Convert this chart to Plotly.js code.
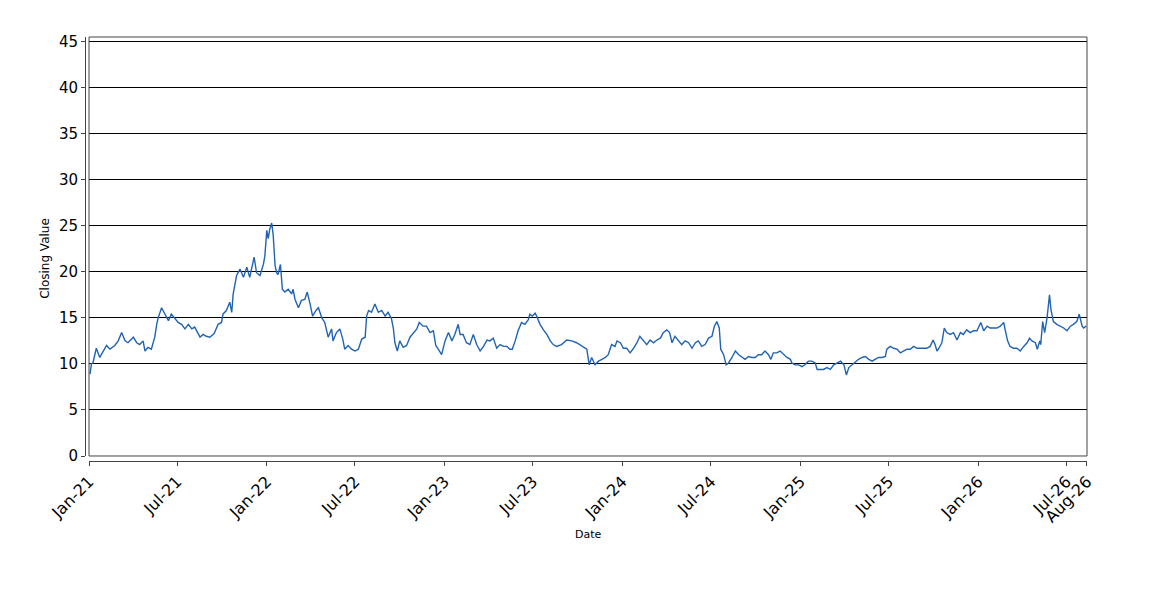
<!DOCTYPE html>
<html>
<head>
<meta charset="utf-8">
<script src="https://cdn.plot.ly/plotly-3.0.1.min.js"></script>
<style>
  html, body { margin: 0; padding: 0; background: #fff; }
  #graph { width: 1150px; height: 600px; }
</style>
</head>
<body>
<div id="graph"></div>
<script>
// closing values, roughly one point a week
const dates2021 = ['2021-01-03','2021-01-06','2021-01-09','2021-01-16','2021-01-23','2021-01-30','2021-02-06','2021-02-13','2021-02-23','2021-03-02',
  '2021-03-09','2021-03-16','2021-03-22','2021-04-02','2021-04-09','2021-04-15','2021-04-22','2021-04-26','2021-05-02','2021-05-09',
  '2021-05-16','2021-05-20','2021-05-23','2021-05-30','2021-06-06','2021-06-13','2021-06-19','2021-06-26','2021-07-03','2021-07-10',
  '2021-07-17','2021-07-24','2021-07-31','2021-08-06','2021-08-17','2021-08-23','2021-08-30','2021-09-06','2021-09-15','2021-09-23',
  '2021-09-30','2021-10-03','2021-10-10','2021-10-17','2021-10-21','2021-10-24','2021-10-31','2021-11-07','2021-11-14','2021-11-21',
  '2021-11-27','2021-12-06','2021-12-11','2021-12-18','2021-12-25','2021-12-28'];
const values2021 = [8.9,10.0,10.1,11.7,10.7,11.4,12.0,11.6,12.0,12.5,
  13.4,12.5,12.3,12.9,12.3,12.1,12.5,11.4,11.8,11.6,
  12.9,14.3,15.0,16.1,15.4,14.7,15.4,14.9,14.5,14.3,
  13.8,14.3,13.8,14.0,12.9,13.2,13.0,12.9,13.3,14.3,
  14.5,15.4,15.8,16.7,15.6,17.6,19.6,20.3,19.4,20.5,
  19.4,21.6,19.9,19.6,20.8,21.7];

const dates2022 = ['2022-01-01','2022-01-04','2022-01-07','2022-01-11','2022-01-14','2022-01-18','2022-01-21','2022-01-24','2022-01-29','2022-02-02',
  '2022-02-07','2022-02-14','2022-02-21','2022-02-24','2022-02-28','2022-03-07','2022-03-13','2022-03-20','2022-03-25','2022-03-31',
  '2022-04-05','2022-04-12','2022-04-17','2022-04-24','2022-04-30','2022-05-07','2022-05-14','2022-05-17','2022-05-24','2022-05-31',
  '2022-06-06','2022-06-10','2022-06-17','2022-06-24','2022-07-01','2022-07-08','2022-07-15','2022-07-22','2022-07-25','2022-07-29',
  '2022-08-04','2022-08-11','2022-08-18','2022-08-25','2022-09-01','2022-09-07','2022-09-14','2022-09-18','2022-09-21','2022-09-26',
  '2022-10-01','2022-10-08','2022-10-15','2022-10-22','2022-10-29','2022-11-05','2022-11-10','2022-11-18','2022-11-25','2022-12-02',
  '2022-12-09','2022-12-14','2022-12-19','2022-12-26'];
const values2022 = [24.5,23.6,24.6,25.3,24.1,20.7,19.9,19.7,20.8,18.1,
  17.8,18.1,17.6,18.1,17.0,16.1,16.9,17.0,17.8,16.5,
  15.2,15.8,16.1,15.0,14.5,12.9,13.8,12.5,13.4,13.8,
  12.7,11.6,12.0,11.6,11.4,11.6,12.7,12.9,15.2,15.8,
  15.6,16.5,15.6,15.8,15.2,15.6,14.9,13.8,12.3,11.4,
  12.5,11.8,12.0,12.9,13.4,13.8,14.5,14.1,14.1,13.4,
  13.6,12.0,11.6,11.0];

const dates2023 = ['2023-01-02','2023-01-09','2023-01-16','2023-01-22','2023-01-29','2023-02-02','2023-02-08','2023-02-15','2023-02-22','2023-03-01',
  '2023-03-08','2023-03-15','2023-03-22','2023-03-29','2023-04-04','2023-04-11','2023-04-18','2023-04-25','2023-05-02','2023-05-09',
  '2023-05-15','2023-05-20','2023-05-26','2023-06-01','2023-06-08','2023-06-15','2023-06-22','2023-06-25','2023-06-30','2023-07-06',
  '2023-07-09','2023-07-16','2023-07-23','2023-07-30','2023-08-06','2023-08-12','2023-08-19','2023-08-29','2023-09-09','2023-09-19',
  '2023-09-29','2023-10-10','2023-10-20','2023-10-25','2023-10-30','2023-11-06','2023-11-13','2023-11-20','2023-11-27','2023-12-03',
  '2023-12-10','2023-12-17','2023-12-21','2023-12-28'];
const values2023 = [12.5,13.4,12.5,13.2,14.3,13.2,13.2,12.3,12.1,13.2,
  12.1,11.4,11.9,12.6,12.5,12.8,11.7,12.1,11.9,11.9,
  11.6,11.6,12.5,13.6,14.5,14.3,14.8,15.4,15.2,15.5,
  15.2,14.3,13.7,13.2,12.5,12.1,11.9,12.1,12.6,12.5,
  12.3,11.9,11.6,9.9,10.7,9.9,10.3,10.5,10.7,11.0,
  12.1,11.9,12.5,12.3];

const dates2024 = ['2024-01-03','2024-01-10','2024-01-17','2024-01-24','2024-01-31','2024-02-06','2024-02-13','2024-02-20','2024-02-27','2024-03-05',
  '2024-03-12','2024-03-19','2024-03-25','2024-04-01','2024-04-07','2024-04-12','2024-04-18','2024-04-25','2024-05-02','2024-05-09',
  '2024-05-16','2024-05-23','2024-05-30','2024-06-05','2024-06-12','2024-06-19','2024-06-26','2024-07-03','2024-07-08','2024-07-13',
  '2024-07-18','2024-07-21','2024-07-27','2024-08-01','2024-08-06','2024-08-13','2024-08-20','2024-08-27','2024-09-02','2024-09-09',
  '2024-09-16','2024-09-23','2024-09-30','2024-10-06','2024-10-13','2024-10-20','2024-10-27','2024-11-01','2024-11-06','2024-11-13',
  '2024-11-20','2024-11-27','2024-12-04','2024-12-11','2024-12-14','2024-12-21','2024-12-28'];
const values2024 = [11.7,11.7,11.2,11.7,12.3,13.0,12.5,12.1,12.6,12.3,
  12.6,12.8,13.4,13.7,13.4,12.3,13.0,12.6,12.1,12.5,
  12.3,11.7,12.3,12.5,11.9,12.1,12.8,13.0,14.1,14.6,
  13.9,11.6,11.0,9.9,10.1,10.7,11.4,11.0,10.8,10.5,
  10.8,10.7,10.7,11.0,11.0,11.4,11.0,10.5,11.2,11.2,
  11.4,11.0,10.7,10.5,10.1,9.9,9.9];

const dates2025 = ['2025-01-04','2025-01-10','2025-01-17','2025-01-24','2025-01-31','2025-02-04','2025-02-11','2025-02-17','2025-02-24','2025-03-03',
  '2025-03-10','2025-03-17','2025-03-24','2025-03-31','2025-04-05','2025-04-10','2025-04-17','2025-04-24','2025-04-30','2025-05-07',
  '2025-05-14','2025-05-21','2025-05-28','2025-06-03','2025-06-10','2025-06-17','2025-06-24','2025-06-27','2025-07-04','2025-07-11',
  '2025-07-18','2025-07-25','2025-08-01','2025-08-07','2025-08-14','2025-08-21','2025-08-28','2025-09-04','2025-09-10','2025-09-17',
  '2025-09-24','2025-09-30','2025-10-04','2025-10-08','2025-10-12','2025-10-18','2025-10-23','2025-10-28','2025-11-04','2025-11-11',
  '2025-11-18','2025-11-25','2025-12-01','2025-12-08','2025-12-15','2025-12-22','2025-12-29'];
const values2025 = [9.7,9.9,10.3,10.3,10.1,9.4,9.4,9.4,9.6,9.4,
  9.9,10.1,10.3,9.9,8.8,9.6,9.9,10.3,10.5,10.7,
  10.8,10.5,10.3,10.5,10.7,10.7,10.8,11.6,11.9,11.7,
  11.6,11.2,11.4,11.6,11.6,11.9,11.7,11.7,11.7,11.7,
  11.9,12.6,12.1,11.4,11.7,12.3,13.9,13.4,13.2,13.4,
  12.6,13.4,13.2,13.7,13.4,13.6,13.6];

const dates2026 = ['2026-01-06','2026-01-12','2026-01-19','2026-01-25','2026-02-01','2026-02-08','2026-02-15','2026-02-22','2026-02-25','2026-03-02',
  '2026-03-07','2026-03-14','2026-03-21','2026-03-28','2026-04-04','2026-04-11','2026-04-16','2026-04-21','2026-04-28','2026-05-02',
  '2026-05-07','2026-05-09','2026-05-13','2026-05-17','2026-05-22','2026-05-27','2026-05-30','2026-06-04','2026-06-11','2026-06-18',
  '2026-06-25','2026-07-02','2026-07-09','2026-07-15','2026-07-22','2026-07-27','2026-08-02','2026-08-05','2026-08-10'];
const values2026 = [14.5,13.6,14.1,13.9,13.9,13.9,14.1,14.5,13.7,12.5,
  11.9,11.7,11.7,11.4,11.9,12.3,12.8,12.5,12.3,11.6,
  12.5,12.1,14.6,13.4,15.0,17.5,15.9,14.6,14.3,14.1,
  13.9,13.6,14.1,14.3,14.6,15.4,14.1,13.9,14.1];

// axis ticks
const tickDates = ['2021-01-01','2021-07-01','2022-01-01','2022-07-01','2023-01-01','2023-07-01','2024-01-01',
  '2024-07-01','2025-01-01','2025-07-01','2026-01-01','2026-07-01','2026-08-12'];
const tickLabels = ['Jan-21','Jul-21','Jan-22','Jul-22','Jan-23','Jul-23','Jan-24',
  'Jul-24','Jan-25','Jul-25','Jan-26','Jul-26','Aug-26'];
const yTicks = [0, 5, 10, 15, 20, 25, 30, 35, 40, 45];

const xs = [].concat(dates2021, dates2022, dates2023, dates2024, dates2025, dates2026);
const ys = [].concat(values2021, values2022, values2023, values2024, values2025, values2026);

const trace = {
    x: xs,
    y: ys,
    type: 'scatter',
    mode: 'lines',
    line: { width: 1.4, color: '#2163b3' },
    hoverinfo: 'x+y'
};

const fam = 'DejaVu Sans, sans-serif';

const layout = {
    width: 1150,
    height: 600,
    showlegend: false,
    paper_bgcolor: '#fff',
    plot_bgcolor: '#fff',
    margin: { l: 85, r: 63, t: 37, b: 139 },
    font: { family: fam, color: '#000' },
    xaxis: {
        type: 'date',
        domain: [0.004, 1],
        range: ['2021-01-01', '2026-08-12'],
        anchor: 'free',
        position: 0,
        tickmode: 'array',
        tickvals: tickDates,
        ticktext: tickLabels,
        tickangle: -45,
        tickfont: { family: fam, size: 16, color: '#000' },
        ticks: 'outside',
        ticklen: 4,
        tickcolor: '#444',
        showgrid: false,
        zeroline: false,
        showline: true,
        linecolor: '#444',
        linewidth: 1
    },
    yaxis: {
        domain: [0.0118, 1],
        range: [0, 45.5],
        anchor: 'free',
        position: 0,
        tickmode: 'array',
        tickvals: yTicks,
        tickfont: { family: fam, size: 15, color: '#000' },
        ticks: 'outside',
        ticklen: 4,
        tickcolor: '#444',
        showgrid: true,
        gridcolor: '#000',
        gridwidth: 1,
        zeroline: false,
        showline: true,
        linecolor: '#444',
        linewidth: 1
    },
    shapes: [{
        type: 'rect', xref: 'x domain', yref: 'y domain',
        x0: 0, x1: 1, y0: 0, y1: 1,
        line: { color: '#444', width: 1 }
    }],
    annotations: [
        { text: 'Closing Value', xref: 'paper', yref: 'paper', x: -0.04, y: 0.479,
          textangle: -90, showarrow: false, xanchor: 'center', yanchor: 'middle',
          font: { family: fam, size: 12, color: '#000' } },
        { text: 'Date', xref: 'paper', yref: 'paper', x: 0.502, y: -0.1745,
          showarrow: false, xanchor: 'center', yanchor: 'middle',
          font: { family: fam, size: 11, color: '#000' } }
    ]
};

Plotly.newPlot('graph', [trace], layout, { displayModeBar: false, staticPlot: true });
</script>
</body>
</html>
